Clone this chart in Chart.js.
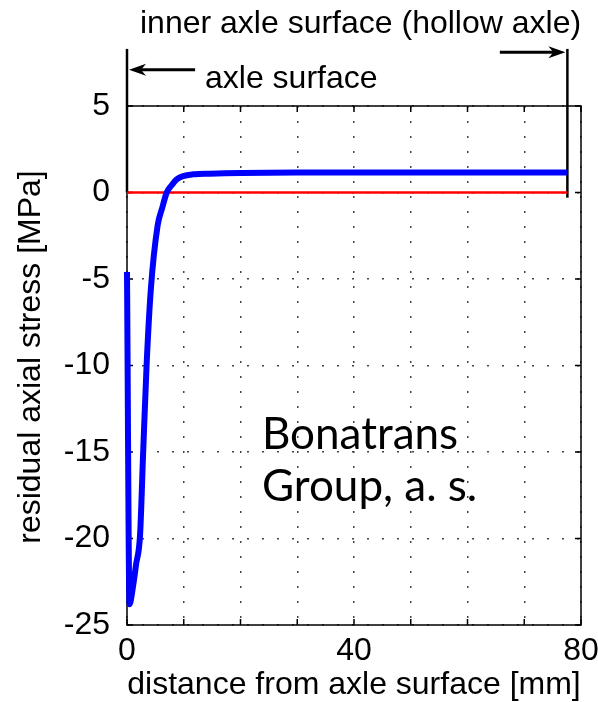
<!DOCTYPE html>
<html>
<head>
<meta charset="utf-8">
<script src="https://cdn.jsdelivr.net/npm/chart.js@4.4.1/dist/chart.umd.min.js"></script>
<style>
  html, body { margin: 0; padding: 0; background: #fff; }
  #grafica { display: block; }
</style>
</head>
<body>
<canvas id="grafica" width="598" height="702"></canvas>
<script>
// DISTANCE FROM AXLE SURFACE [mm] AND RESIDUAL AXIAL STRESS [MPa]
const distancias = [0, 0.45, 1.0, 1.6, 2.3, 2.85, 3.45, 4.2, 5.4, 6.2, 7.0, 7.9, 8.75, 9.9, 11.7, 14.6, 20, 30, 40, 50, 60, 70, 77.6];
const tensiones = [-4.6, -23.8, -22.9, -21.5, -19.8, -15, -10, -5.6, -1.9, -0.9, 0.0, 0.43, 0.76, 0.95, 1.05, 1.09, 1.13, 1.15, 1.15, 1.15, 1.15, 1.15, 1.15];

// ZERO REFERENCE LINE
const ceroX = [0, 77.6];
const ceroY = [0, 0];

// AXLE SURFACE MARKERS (outer at 0, inner bore of the hollow axle)
const superficieExterior = { x: 0, yDesde: 0, yHasta: 8.3 };
const superficieInterior = { x: 77.6, yDesde: -0.3, yHasta: 8.3 };

// TICK LABELS
const etiquetasX = [0, 40, 80];
const pasoX = 10;
const pasoY = 5;

const fuente = 'Liberation Sans, Arial, sans-serif';
const canvas = document.getElementById('grafica');

const puntos = (xs, ys) => xs.map((x, i) => ({ x, y: ys[i] }));

// DRAWS BOX, INNER TICKS, ARROWS AND FREE TEXT
const extras = {
  id: 'extras',
  beforeDatasetsDraw(chart) {
    const { ctx, chartArea: a, scales: { x, y } } = chart;
    ctx.save();
    ctx.strokeStyle = '#000';
    ctx.lineWidth = 1.5;
    ctx.strokeRect(a.left, a.top, a.right - a.left, a.bottom - a.top);

    ctx.beginPath();
    for (let v = x.min; v <= x.max; v += pasoX) {
      const px = x.getPixelForValue(v);
      ctx.moveTo(px, a.bottom); ctx.lineTo(px, a.bottom - 6);
      ctx.moveTo(px, a.top); ctx.lineTo(px, a.top + 6);
    }
    for (let v = y.min; v <= y.max; v += pasoY) {
      const py = y.getPixelForValue(v);
      ctx.moveTo(a.left, py); ctx.lineTo(a.left + 6, py);
      ctx.moveTo(a.right, py); ctx.lineTo(a.right - 6, py);
    }
    ctx.stroke();
    ctx.restore();
  },
  afterDatasetsDraw(chart) {
    const { ctx, scales: { x, y } } = chart;

    const flecha = (desde, hasta, valorY) => {
      const x1 = x.getPixelForValue(desde);
      const x2 = x.getPixelForValue(hasta);
      const py = y.getPixelForValue(valorY);
      const dir = Math.sign(x2 - x1);
      const punta = x2 - dir * 2;
      ctx.beginPath();
      ctx.moveTo(x1, py);
      ctx.lineTo(punta - dir * 10, py);
      ctx.stroke();
      ctx.beginPath();
      ctx.moveTo(punta, py);
      ctx.lineTo(punta - dir * 17, py - 6);
      ctx.lineTo(punta - dir * 12, py);
      ctx.lineTo(punta - dir * 17, py + 6);
      ctx.closePath();
      ctx.fill();
    };

    ctx.save();
    ctx.strokeStyle = '#000';
    ctx.fillStyle = '#000';
    ctx.lineWidth = 3;
    flecha(12, 0, 7.1);
    flecha(65.7, 77.6, 8.1);

    ctx.font = '32px ' + fuente;
    ctx.textAlign = 'left';
    ctx.textBaseline = 'alphabetic';
    ctx.fillText('inner axle surface (hollow axle)', 140, 33);
    ctx.fillText('axle surface', 205, 88);

    // Y AXIS TITLE
    ctx.save();
    ctx.translate(31, 357);
    ctx.rotate(-Math.PI / 2);
    ctx.textAlign = 'center';
    ctx.textBaseline = 'middle';
    ctx.fillText('residual axial stress [MPa]', 0, 0);
    ctx.restore();

    ctx.font = '44px Lato, sans-serif';
    ctx.fillText('Bonatrans', 262, 449);
    ctx.fillText('Group, a. s.', 262, 501);
    ctx.restore();
  }
};

const config = {
  type: 'line',
  data: {
    datasets: [
      {
        label: 'residual axial stress',
        data: puntos(distancias, tensiones),
        borderColor: '#0000ff',
        borderWidth: 6,
        pointRadius: 0,
        cubicInterpolationMode: 'monotone',
        clip: false
      },
      {
        label: 'zero',
        data: puntos(ceroX, ceroY),
        borderColor: '#ff0000',
        borderWidth: 2.5,
        pointRadius: 0,
        clip: false
      },
      {
        label: 'axle surface',
        data: [
          { x: superficieExterior.x, y: superficieExterior.yDesde },
          { x: superficieExterior.x, y: superficieExterior.yHasta }
        ],
        borderColor: '#000',
        borderWidth: 2.5,
        pointRadius: 0,
        clip: false
      },
      {
        label: 'inner axle surface',
        data: [
          { x: superficieInterior.x, y: superficieInterior.yDesde },
          { x: superficieInterior.x, y: superficieInterior.yHasta }
        ],
        borderColor: '#000',
        borderWidth: 2.5,
        pointRadius: 0,
        clip: false
      }
    ]
  },
  options: {
    responsive: false,
    animation: false,
    devicePixelRatio: 1,
    layout: { padding: { top: 106, right: 17, left: 0, bottom: 0 } },
    plugins: { legend: { display: false }, tooltip: { enabled: false } },
    scales: {
      x: {
        type: 'linear',
        min: 0,
        max: 80,
        afterFit: (scale) => {
          scale.height = 77;
          scale.paddingLeft = 0;
          scale.paddingRight = 0;
        },
        border: { display: false, dash: [2, 13] },
        grid: { color: '#444', lineWidth: 1.5, drawTicks: false },
        ticks: {
          stepSize: pasoX,
          autoSkip: false,
          maxRotation: 0,
          padding: 7,
          color: '#000',
          font: { family: fuente, size: 32 },
          callback: (v) => (etiquetasX.includes(v) ? String(v) : '')
        },
        title: {
          display: true,
          text: 'distance from axle surface [mm]',
          color: '#000',
          font: { family: fuente, size: 32, lineHeight: 1 },
          padding: { top: 0, bottom: 1 }
        }
      },
      y: {
        min: -25,
        max: 5,
        afterFit: (scale) => { scale.width = 127; },
        border: { display: false, dash: [2, 13] },
        grid: { color: '#444', lineWidth: 1.5, drawTicks: false },
        ticks: {
          stepSize: pasoY,
          padding: 17,
          color: '#000',
          font: { family: fuente, size: 32 }
        }
      }
    }
  },
  plugins: [extras]
};

new Chart(canvas, config);
</script>
</body>
</html>
